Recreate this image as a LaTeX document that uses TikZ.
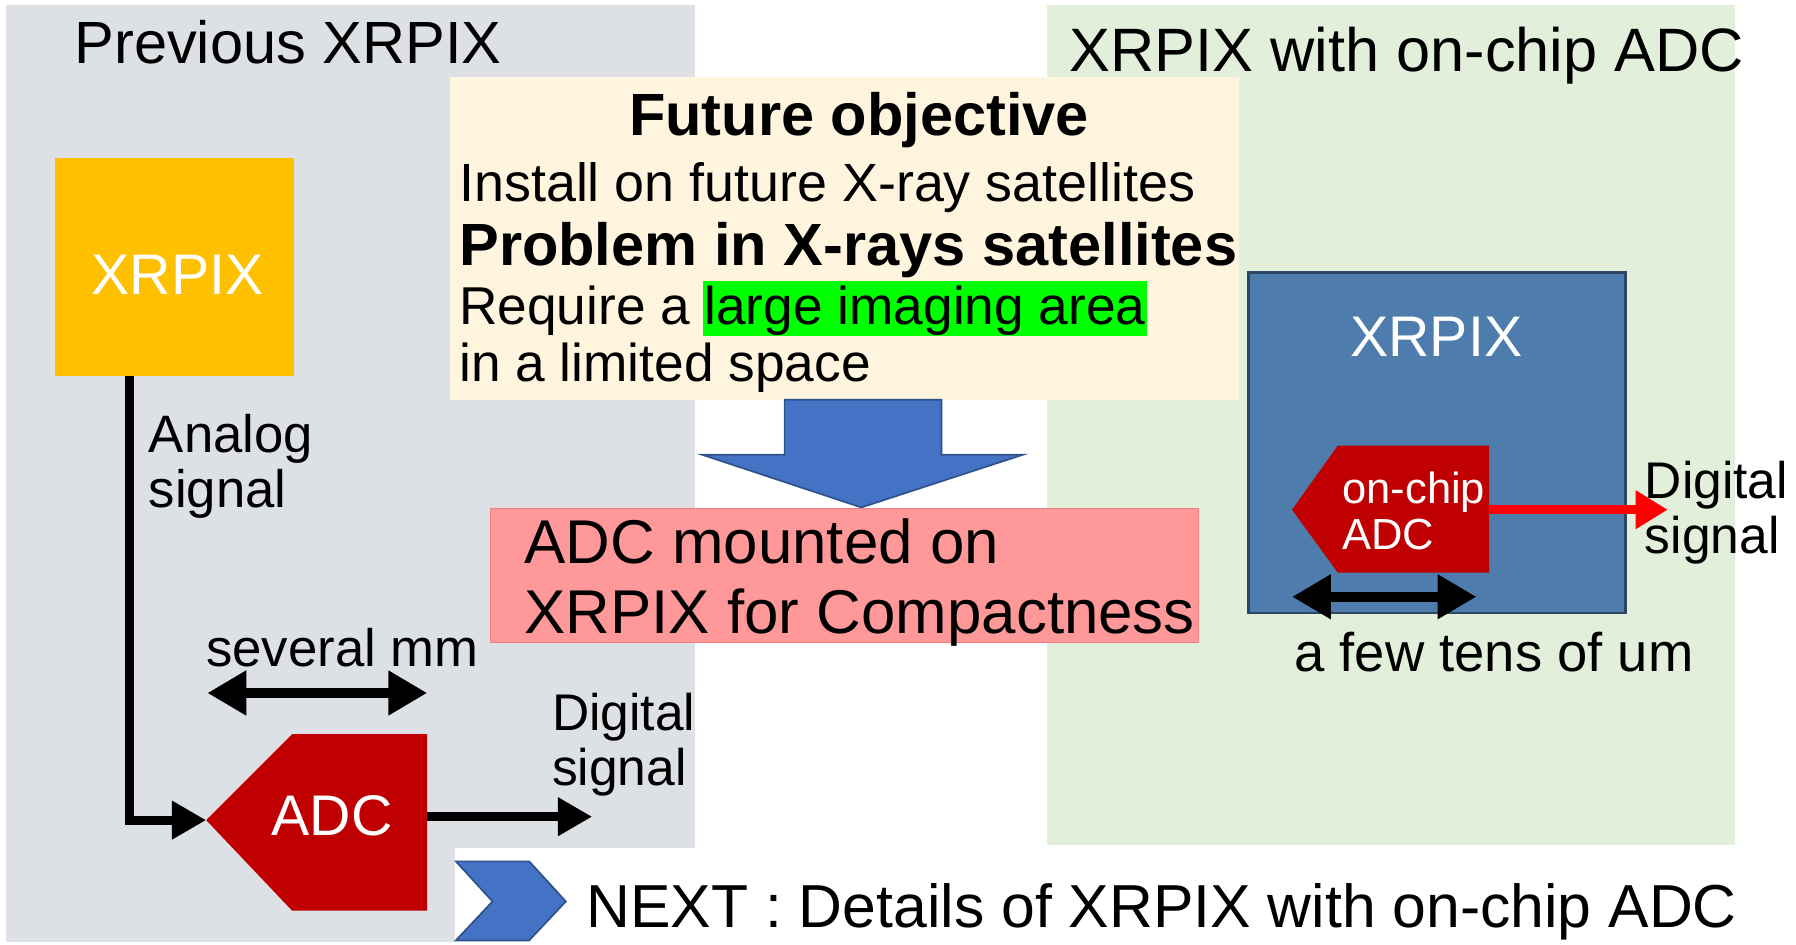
\documentclass[tikz,border=0pt]{standalone}
\usepackage{fontspec}
\setmainfont{Liberation Sans}
\usetikzlibrary{arrows.meta}
\definecolor{panelgray}{RGB}{221,224,229}
\definecolor{panelgreen}{RGB}{226,239,218}
\definecolor{xryellow}{RGB}{255,192,0}
\definecolor{adcred}{RGB}{192,0,0}
\definecolor{cream}{RGB}{255,244,222}
\definecolor{pinkbox}{RGB}{255,153,153}
\definecolor{pinkedge}{RGB}{240,128,128}
\definecolor{hlgreen}{RGB}{0,255,0}
\definecolor{arrowblue}{RGB}{68,114,196}
\definecolor{arrowedge}{RGB}{47,82,143}
\definecolor{chipblue}{RGB}{78,124,172}
\definecolor{chipedge}{RGB}{44,70,100}
\begin{document}
\begin{tikzpicture}[x=1pt,y=-1pt,
  every node/.style={inner sep=0pt, outer sep=0pt},
  lbl/.style={anchor=base west, font=\fontsize{46}{55}\selectfont},
  title/.style={anchor=base west, font=\fontsize{52}{62}\selectfont},
  big/.style={anchor=base west, font=\fontsize{54}{64}\selectfont},
  boxlbl/.style={text=white, font=\fontsize{50}{60}\selectfont},
  thick arrow/.style={line width=8pt, -{Triangle[length=30pt,width=32pt]}},
  dbl arrow/.style={line width=9pt, {Triangle[length=34pt,width=37pt]}-{Triangle[length=34pt,width=37pt]}}
]
\useasboundingbox (0,0) rectangle (1568,825);
\fill[white] (0,0) rectangle (1568,825);
% panels
\fill[panelgray] (5,4) rectangle (607,822);
\fill[panelgreen] (914,4) rectangle (1515,738);
\fill[white] (397,740) rectangle (1568,825);

\node[title] (t1) at (65,55) {Previous XRPIX};
\node[title, font=\fontsize{53.5}{64}\selectfont] (t2) at (934,62) {XRPIX with on-chip ADC};

% left: XRPIX box
\node[fill=xryellow, minimum width=209pt, minimum height=190pt] (xr) at (152.5,233) {};
\node[boxlbl] (xrl) at (155,240) {XRPIX};

% left ADC
\fill[adcred] (180,716) -- (255,641) -- (373,641) -- (373,795) -- (255,795) -- cycle;
\node[boxlbl] (adc) at (290,712) {ADC};
\coordinate (adcin) at (180,716);
\coordinate (adcout) at (373,713);
\coordinate (dout1) at (517,713);

\draw[thick arrow] ([xshift=-39.5pt]xr.south) |- (adcin);
\draw[thick arrow] (adcout) -- (dout1);

\node[lbl] (an1) at (130,395) {Analog};
\node[lbl] (an2) at (130,443) {signal};
\node[lbl] (sm) at (180,582) {several mm};
\coordinate (sma) at (181,605);
\coordinate (smb) at (373,605);
\draw[dbl arrow] (sma) -- (smb);
\node[lbl, font=\fontsize{45}{54}\selectfont] (dg1) at (482,638) {Digital};
\node[lbl, font=\fontsize{45}{54}\selectfont] (dg2) at (482,686) {signal};

% right: chip
\node[fill=chipblue, draw=chipedge, line width=2pt, minimum width=329pt, minimum height=297pt] (chip) at (1254.5,386.5) {};
\node[boxlbl] (chipl) at (1254,294) {XRPIX};
\fill[adcred] (1128,445) -- (1168,389) -- (1300,389) -- (1300,500) -- (1168,500) -- cycle;
\node[anchor=base west, text=white, font=\fontsize{38}{46}\selectfont] (oc1) at (1172,440) {on-chip};
\node[anchor=base west, text=white, font=\fontsize{38}{46}\selectfont] (oc2) at (1172,480) {ADC};
\coordinate (ocout) at (1300,445);
\coordinate (dout2) at (1456,445);
\draw[line width=8pt, red, -{Triangle[length=28pt,width=32pt]}] (ocout) -- (dout2);
\node[lbl, font=\fontsize{45}{54}\selectfont] (dg3) at (1436,435) {Digital};
\node[lbl, font=\fontsize{45}{54}\selectfont] (dg4) at (1436,483) {signal};
\coordinate (fta) at (1128,521);
\coordinate (ftb) at (1289,521);
\draw[dbl arrow] (fta) -- (ftb);
\node[lbl, font=\fontsize{47.5}{56}\selectfont] (few) at (1130,586) {a few tens of um};

% objective box
\node[fill=cream, minimum width=689pt, minimum height=282pt, anchor=north west] (obj) at (393,67) {};
\node[anchor=base, font=\fontsize{52}{62}\selectfont\bfseries] (fo) at (750,118) {Future objective};
\node[lbl, font=\fontsize{47}{56}\selectfont] (l1) at (401,176) {Install on future X-ray satellites};
\node[lbl, font=\fontsize{52}{62}\selectfont\bfseries] (l2) at (401,232) {Problem in X-rays satellites};
\node[lbl, font=\fontsize{46.5}{56}\selectfont] (l3) at (401,283) {Require a};
\node[anchor=base west, font=\fontsize{46.5}{56}\selectfont, fill=hlgreen, text height=38pt, text depth=10pt, inner xsep=1pt] (l3h) at (614,283) {large imaging area};
\node[lbl, font=\fontsize{46.5}{56}\selectfont] (l4) at (401,333) {in a limited space};

% blue down arrow
\filldraw[fill=arrowblue, draw=arrowedge, line width=1.5pt, line join=miter]
  (685,349) -- (822,349) -- (822,397) -- (893,397) -- (752,443) -- (613,397) -- (685,397) -- cycle;

% pink box
\node[fill=pinkbox, draw=pinkedge, line width=1pt, minimum width=618pt, minimum height=117pt, anchor=north west] (pk) at (428,444) {};
\node[big] (pk1) at (458,492) {ADC mounted on};
\node[big] (pk2) at (458,553) {XRPIX for Compactness};

% NEXT
\filldraw[fill=arrowblue, draw=arrowedge, line width=1.5pt]
  (398,752) -- (462,752) -- (494,787) -- (462,821) -- (398,821) -- (430,787) -- cycle;
\node[anchor=base west, font=\fontsize{53}{63}\selectfont] (nx) at (512,810) {NEXT : Details of XRPIX with on-chip ADC};
\end{tikzpicture}
\end{document}
